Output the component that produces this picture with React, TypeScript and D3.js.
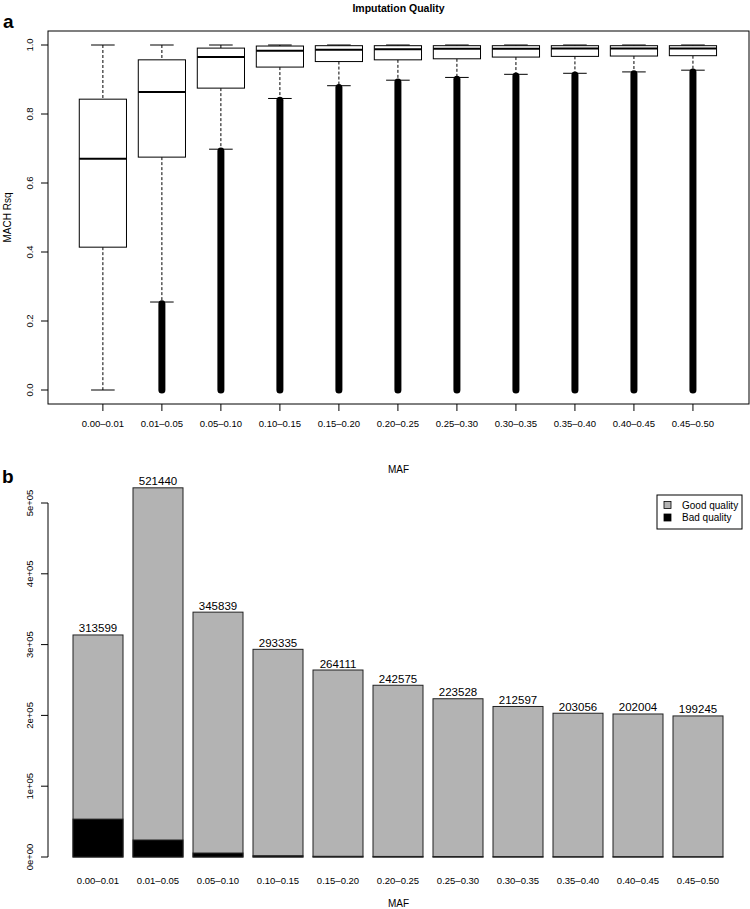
import * as d3 from "d3";

const categories = [
  "0.00–0.01", "0.01–0.05", "0.05–0.10", "0.10–0.15", "0.15–0.20", "0.20–0.25",
  "0.25–0.30", "0.30–0.35", "0.35–0.40", "0.40–0.45", "0.45–0.50",
];

// panel a: box plot statistics per MAF bin
const whiskerHigh = [1, 1, 1, 1, 1, 1, 1, 1, 1, 1, 1];
const q3 = [0.843, 0.957, 0.991, 0.997, 0.998, 0.998, 0.998, 0.998, 0.998, 0.998, 0.998];
const median = [0.67, 0.864, 0.965, 0.983, 0.986, 0.988, 0.989, 0.989, 0.99, 0.99, 0.99];
const q1 = [0.414, 0.675, 0.875, 0.936, 0.952, 0.957, 0.96, 0.965, 0.967, 0.968, 0.969];
const whiskerLow = [0, 0.255, 0.698, 0.845, 0.882, 0.898, 0.906, 0.915, 0.918, 0.922, 0.927];
// range covered by the (dense) outlier points below the lower whisker
const outlierMin = [null, 0, 0, 0, 0, 0, 0, 0, 0, 0, 0];
const outlierMax = [null, 0.25, 0.693, 0.84, 0.877, 0.893, 0.901, 0.91, 0.913, 0.917, 0.922];
const rsqTicks = [0, 0.2, 0.4, 0.6, 0.8, 1.0];

// panel b: counts per MAF bin
const totalCounts = [313599, 521440, 345839, 293335, 264111, 242575, 223528, 212597, 203056, 202004, 199245];
const badCounts = [53500, 24000, 5600, 1800, 1000, 800, 700, 400, 300, 300, 300];
const countTicks = [0, 100000, 200000, 300000, 400000, 500000];
const countTickLabels = ["0e+00", "1e+05", "2e+05", "3e+05", "4e+05", "5e+05"];
const legendItems = [
  { label: "Good quality", color: "#b3b3b3" },
  { label: "Bad quality", color: "#000000" },
];

const font = "'Liberation Sans', Arial, Helvetica, sans-serif";
const W = 750;
const H = 909;

// panel a frame
const a = { left: 48, right: 749, top: 31, bottom: 404 };
// panel b axis
const b = { left: 48, top: 503, bottom: 857 };

export default function App() {
  const xA = d3.scaleLinear().domain([0.07, 11.95]).range([a.left, a.right]);
  const yA = d3.scaleLinear().domain([0, 1]).range([390, 45]);
  const step = xA(2) - xA(1);
  const boxW = step * 0.8;
  const capW = boxW / 2;

  const xB = d3
    .scaleBand<string>()
    .domain(categories)
    .range([68, 728])
    .paddingInner(1 / 6)
    .paddingOuter(1 / 12);
  const yB = d3.scaleLinear().domain([0, 500000]).range([b.bottom, b.top]);

  return (
    <div style={{ position: "absolute", left: 0, top: 0 }}>
      <svg width={W} height={H} style={{ display: "block", fontFamily: font }}>
        <rect width={W} height={H} fill="#fff" />

        {/* ---------- panel a ---------- */}
        <text x={3} y={28} fontSize={19} fontWeight="bold">a</text>
        <text x={(a.left + a.right) / 2} y={12} fontSize={10.5} fontWeight="bold" textAnchor="middle">
          Imputation Quality
        </text>
        <rect x={a.left} y={a.top} width={a.right - a.left} height={a.bottom - a.top}
          fill="none" stroke="#000" strokeWidth={1} />

        {rsqTicks.map((t) => (
          <g key={t} transform={`translate(${a.left},${yA(t)})`}>
            <line x1={-7} x2={0} stroke="#000" />
            <text transform="translate(-15,0) rotate(-90)" fontSize={9.5} textAnchor="middle">
              {t.toFixed(1)}
            </text>
          </g>
        ))}
        <text transform={`translate(11,${(a.top + a.bottom) / 2}) rotate(-90)`} fontSize={10} textAnchor="middle">
          MACH Rsq
        </text>

        {categories.map((c, i) => {
          const cx = xA(i + 1);
          return (
            <g key={c}>
              <line x1={cx} x2={cx} y1={a.bottom} y2={a.bottom + 7} stroke="#000" />
              <text x={cx} y={427} fontSize={9.5} textAnchor="middle">{c}</text>
              {/* outliers */}
              {outlierMin[i] !== null && (
                <line x1={cx} x2={cx} y1={yA(outlierMin[i] as number)} y2={yA(outlierMax[i] as number)}
                  stroke="#000" strokeWidth={7} strokeLinecap="round" />
              )}
              {/* whiskers */}
              <line x1={cx} x2={cx} y1={yA(whiskerHigh[i])} y2={yA(q3[i])}
                stroke="#000" strokeDasharray="3,2" />
              <line x1={cx} x2={cx} y1={yA(q1[i])} y2={yA(whiskerLow[i])}
                stroke="#000" strokeDasharray="3,2" />
              <line x1={cx - capW / 2} x2={cx + capW / 2} y1={yA(whiskerHigh[i])} y2={yA(whiskerHigh[i])} stroke="#000" />
              <line x1={cx - capW / 2} x2={cx + capW / 2} y1={yA(whiskerLow[i])} y2={yA(whiskerLow[i])} stroke="#000" />
              {/* box */}
              <rect x={cx - boxW / 2} y={yA(q3[i])} width={boxW} height={yA(q1[i]) - yA(q3[i])}
                fill="#fff" stroke="#000" />
              <line x1={cx - boxW / 2} x2={cx + boxW / 2} y1={yA(median[i])} y2={yA(median[i])}
                stroke="#000" strokeWidth={2} />
            </g>
          );
        })}
        <text x={(a.left + a.right) / 2} y={473} fontSize={10} textAnchor="middle">MAF</text>

        {/* ---------- panel b ---------- */}
        <text x={2} y={483} fontSize={19} fontWeight="bold">b</text>
        <line x1={b.left} x2={b.left} y1={yB(0)} y2={yB(500000)} stroke="#000" />
        {countTicks.map((t, i) => (
          <g key={t} transform={`translate(${b.left},${yB(t)})`}>
            <line x1={-7} x2={0} stroke="#000" />
            <text transform="translate(-15,0) rotate(-90)" fontSize={9.5} textAnchor="middle">
              {countTickLabels[i]}
            </text>
          </g>
        ))}

        {categories.map((c, i) => {
          const x0 = xB(c) as number;
          const bw = xB.bandwidth();
          return (
            <g key={c}>
              <rect x={x0} y={yB(totalCounts[i])} width={bw} height={yB(0) - yB(totalCounts[i])}
                fill="#b3b3b3" stroke="#222" />
              <rect x={x0} y={yB(badCounts[i])} width={bw} height={yB(0) - yB(badCounts[i])}
                fill="#000" stroke="#222" />
              <text x={x0 + bw / 2} y={yB(totalCounts[i]) - 2.5} fontSize={11.5} textAnchor="middle">
                {totalCounts[i]}
              </text>
              <text x={x0 + bw / 2} y={884} fontSize={9.5} textAnchor="middle">{c}</text>
            </g>
          );
        })}
        <text x={(a.left + a.right) / 2} y={907} fontSize={10} textAnchor="middle">MAF</text>

        <g transform="translate(657,495)">
          <rect width={85} height={34} fill="#fff" stroke="#000" />
          {legendItems.map((d, i) => (
            <g key={d.label} transform={`translate(0,${10 + i * 12.5})`}>
              <rect x={7} y={-3.5} width={7} height={7} fill={d.color} stroke="#000" strokeWidth={0.8} />
              <text x={25} y={3.5} fontSize={10}>{d.label}</text>
            </g>
          ))}
        </g>
      </svg>
    </div>
  );
}
